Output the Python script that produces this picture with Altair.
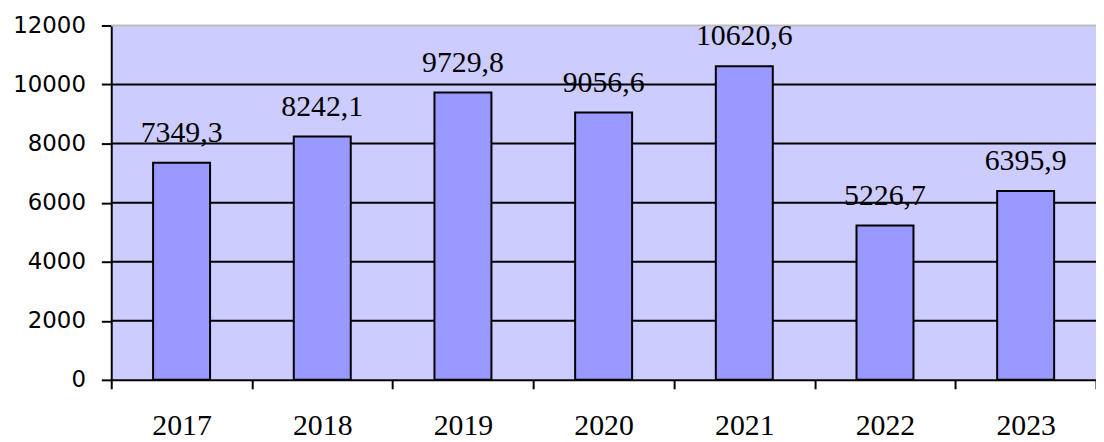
import altair as alt
import pandas as pd

years = ["2017", "2018", "2019", "2020", "2021", "2022", "2023"]
values = [7349.3, 8242.1, 9729.8, 9056.6, 10620.6, 5226.7, 6395.9]
y_ticks = [0, 2000, 4000, 6000, 8000, 10000, 12000]
grid_black = [2000, 4000, 6000, 8000, 10000]
grid_top = [12000]

df = pd.DataFrame({
    "year": years,
    "value": values,
    "label": [f"{v:.1f}".replace(".", ",") for v in values],
})
grid_df = pd.DataFrame({"g": grid_black})
top_df = pd.DataFrame({"g": grid_top})

yscale = alt.Scale(domain=[0, 12000], nice=False)
xscale = alt.Scale(paddingInner=0, paddingOuter=0)

grid = alt.Chart(grid_df).mark_rule(color="black", strokeWidth=2).encode(
    y=alt.Y("g:Q", scale=yscale)
)
top = alt.Chart(top_df).mark_rule(color="#bfbfbf", strokeWidth=2).encode(
    y=alt.Y("g:Q", scale=yscale)
)

x_enc = alt.X(
    "year:N", sort=years, scale=xscale, title=None,
    axis=alt.Axis(
        labelAngle=0, tickBand="extent", domainColor="black", domainWidth=2,
        tickColor="black", tickWidth=2, tickSize=9,
        labelFont="Liberation Serif", labelFontSize=30, labelColor="black",
        labelPadding=22, labelBaseline="top",
    ),
)

bars = alt.Chart(df).mark_bar(
    width=alt.RelativeBandSize(0.405), color="#9999ff", stroke="black", strokeWidth=2
).encode(
    x=x_enc,
    y=alt.Y(
        "value:Q", scale=yscale, title=None,
        axis=alt.Axis(
            values=y_ticks, format="d", grid=False, domainColor="black", domainWidth=2,
            tickColor="black", tickWidth=2, tickSize=10,
            labelFont="DejaVu Sans", labelFontSize=23, labelColor="black",
            labelPadding=16,
        ),
    ),
)

text = alt.Chart(df).mark_text(
    font="Liberation Serif", fontSize=30, color="black", baseline="alphabetic", dy=-21
).encode(
    x=alt.X("year:N", sort=years, scale=xscale),
    y=alt.Y("value:Q", scale=yscale),
    text="label:N",
)

chart = alt.layer(grid, top, bars, text).properties(
    width=992, height=357,
    background="white",
    autosize=alt.AutoSizeParams(type="none"),
    padding={"left": 104, "top": 16, "right": 0, "bottom": 60},
).configure_view(fill="#ccccff", stroke=None)

chart.save("out.html", embed_options={"renderer": "svg", "actions": False})
